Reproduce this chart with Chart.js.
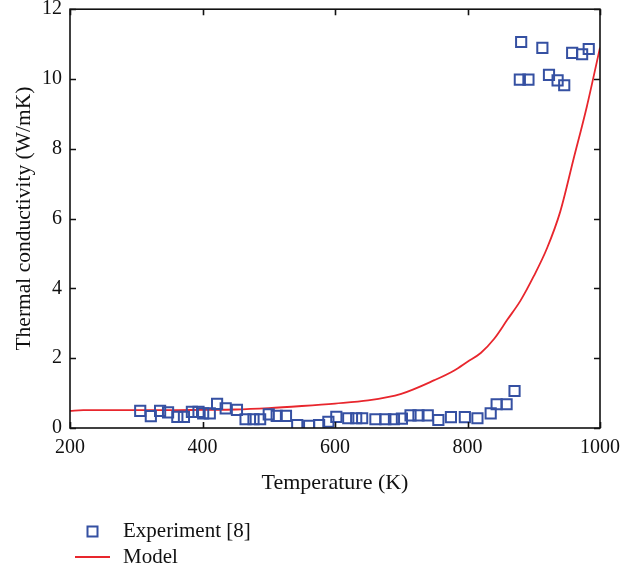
<!DOCTYPE html>
<html>
<head>
<meta charset="utf-8">
<script src="https://cdn.jsdelivr.net/npm/chart.js@4/dist/chart.umd.min.js"></script>
<style>
  html, body { margin: 0; padding: 0; background: #fff; }
  #wrap { width: 638px; height: 567px; position: relative; }
</style>
</head>
<body>
<div id="wrap"><canvas id="c" width="638" height="567"></canvas></div>
<script>
// ---- Data ----
const expTemperature = [306,322,336,348,362,372,384,394,401,411,422,435,452,465,477,487,500,512,526,543,561,576,590,602,620,632,641,661,676,689,701,714,726,740,756,775,796,815,835,844,859,871,879,881,892,913,923,936,946,958,973,983];
const expConductivity = [0.49,0.34,0.49,0.45,0.32,0.32,0.46,0.46,0.42,0.42,0.69,0.56,0.52,0.25,0.25,0.25,0.39,0.35,0.35,0.08,0.06,0.08,0.18,0.32,0.28,0.28,0.28,0.25,0.25,0.25,0.27,0.36,0.36,0.36,0.23,0.31,0.31,0.28,0.42,0.68,0.68,1.06,9.98,11.06,9.98,10.89,10.12,9.96,9.82,10.75,10.71,10.86];
const modelTemperature = [200,220,250,300,350,400,450,500,550,600,650,700,750,780,800,820,840,860,880,900,920,940,960,980,1000];
const modelConductivity = [0.49,0.51,0.51,0.51,0.51,0.52,0.53,0.57,0.63,0.70,0.79,0.98,1.37,1.65,1.9,2.15,2.55,3.1,3.65,4.35,5.15,6.2,7.7,9.2,10.9];
const xTicks = [200,400,600,800,1000];
const yTicks = [0,2,4,6,8,10,12];
const seriesNames = ['Experiment [8]', 'Model'];

const BLUE = '#3550a2';
const RED = '#e8262d';
const FONT = "'Liberation Serif', 'DejaVu Serif', serif";

// frame + inward ticks on all four sides
const framePlugin = {
  id: 'frame',
  afterDraw(chart) {
    const {ctx, chartArea: a, scales} = chart;
    ctx.save();
    ctx.strokeStyle = '#111';
    ctx.lineWidth = 1.6;
    ctx.strokeRect(a.left, a.top, a.right - a.left, a.bottom - a.top);
    const tl = 6;
    ctx.beginPath();
    xTicks.forEach(v => {
      const px = Math.round(scales.x.getPixelForValue(v)) + 0.5;
      ctx.moveTo(px, a.bottom); ctx.lineTo(px, a.bottom - tl);
      ctx.moveTo(px, a.top); ctx.lineTo(px, a.top + tl);
    });
    yTicks.forEach(v => {
      const py = Math.round(scales.y.getPixelForValue(v)) + 0.5;
      ctx.moveTo(a.left, py); ctx.lineTo(a.left + tl, py);
      ctx.moveTo(a.right, py); ctx.lineTo(a.right - tl, py);
    });
    ctx.stroke();
    ctx.restore();
  }
};

// legend below the plot, stacked vertically
const legendPlugin = {
  id: 'stackLegend',
  afterDraw(chart) {
    const {ctx} = chart;
    ctx.save();
    ctx.font = "21px " + FONT;
    ctx.fillStyle = '#111';
    ctx.textBaseline = 'middle';
    ctx.textAlign = 'left';
    const y1 = 531, y2 = 557;
    ctx.strokeStyle = BLUE;
    ctx.lineWidth = 2;
    ctx.strokeRect(87.5, y1 - 4.5, 10, 10);
    ctx.fillText(seriesNames[0], 123, y1);
    ctx.strokeStyle = RED;
    ctx.lineWidth = 1.8;
    ctx.beginPath();
    ctx.moveTo(75, y2); ctx.lineTo(110, y2);
    ctx.stroke();
    ctx.fillText(seriesNames[1], 123, y2);
    ctx.restore();
  }
};

new Chart(document.getElementById('c'), {
  type: 'scatter',
  data: {
    datasets: [
      {
        label: seriesNames[0],
        data: expTemperature.map((t, i) => ({x: t, y: expConductivity[i]})),
        pointStyle: 'rect',
        pointRadius: 7.2,
        pointHoverRadius: 7.2,
        borderColor: BLUE,
        backgroundColor: 'rgba(0,0,0,0)',
        pointBorderWidth: 2,
        showLine: false,
        order: 1
      },
      {
        label: seriesNames[1],
        data: modelTemperature.map((t, i) => ({x: t, y: modelConductivity[i]})),
        showLine: true,
        borderColor: RED,
        borderWidth: 1.8,
        pointRadius: 0,
        pointHoverRadius: 0,
        fill: false,
        cubicInterpolationMode: 'monotone',
        order: 2
      }
    ]
  },
  options: {
    responsive: false,
    animation: false,
    devicePixelRatio: 1,
    layout: { padding: { left: 0, right: 38, top: 8, bottom: 64 } },
    plugins: {
      legend: { display: false },
      tooltip: { enabled: false }
    },
    scales: {
      x: {
        type: 'linear',
        min: 200, max: 1000,
        afterBuildTicks: s => { s.ticks = xTicks.map(v => ({value: v})); },
        grid: { display: false, drawTicks: false },
        border: { display: false },
        ticks: { color: '#111', font: { family: FONT, size: 20 }, padding: 8, maxRotation: 0, callback: v => String(v) },
        title: { display: true, text: 'Temperature (K)', color: '#111', font: { family: FONT, size: 22 }, padding: { top: 0, bottom: 7 } },
        afterFit: s => { s.height = 75; s.paddingLeft = 0; s.paddingRight = 0; }
      },
      y: {
        type: 'linear',
        min: 0, max: 12,
        afterBuildTicks: s => { s.ticks = yTicks.map(v => ({value: v})); },
        grid: { display: false, drawTicks: false },
        border: { display: false },
        ticks: { color: '#111', font: { family: FONT, size: 20 }, padding: 8, callback: v => String(v) },
        title: { display: true, text: 'Thermal conductivity (W/mK)', color: '#111', font: { family: FONT, size: 21.5 }, padding: { top: 11, bottom: 0 } },
        afterFit: s => { s.width = 70; s.paddingTop = 0; s.paddingBottom = 0; }
      }
    }
  },
  plugins: [framePlugin, legendPlugin]
});
</script>
</body>
</html>
